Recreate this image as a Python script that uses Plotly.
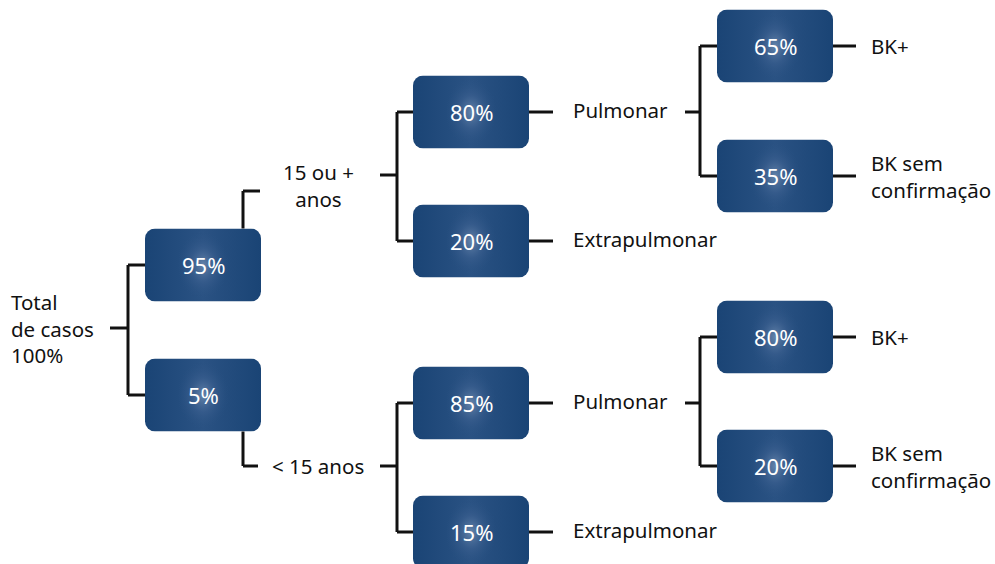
import base64
import plotly.graph_objects as go

# ---------------- data ----------------
root_label = "Total<br>de casos<br>100%"
age_groups = ["15 ou +<br>anos", "< 15 anos"]
age_pct = [95, 5]
form_labels = ["Pulmonar", "Extrapulmonar"]
form_pct = [[80, 20], [85, 15]]
bk_labels = ["BK+", "BK sem<br>confirmação"]
bk_pct = [[65, 35], [80, 20]]

# ---------------- layout (pixel coordinates) ----------------
W, H = 995, 564
BW, BH = 116, 73
col_age, col_form, col_bk = 145, 413, 717
age_cy = [265, 395]
form_cy = [[112, 241], [403, 532]]
bk_cy = [[46, 176], [337, 466]]
LINE = dict(color="#111111", width=3)
FONT = "Noto Sans"
FS = 20.5
FS_BOX = 22

svg = (
    '<svg xmlns="http://www.w3.org/2000/svg" width="116" height="73" viewBox="0 0 116 73">'
    '<defs>'
    '<linearGradient id="h" x1="0" y1="0" x2="1" y2="0">'
    '<stop offset="0" stop-color="#1a4475"/>'
    '<stop offset="0.5" stop-color="#2a5283"/>'
    '<stop offset="1" stop-color="#1a4475"/>'
    '</linearGradient>'
    '<radialGradient id="g" cx="58" cy="36.5" r="34" gradientUnits="userSpaceOnUse" '
    'gradientTransform="translate(58 36.5) scale(0.75 1) translate(-58 -36.5)">'
    '<stop offset="0" stop-color="#6584aa" stop-opacity="1"/>'
    '<stop offset="0.5" stop-color="#3c6090" stop-opacity="0.6"/>'
    '<stop offset="1" stop-color="#2a5283" stop-opacity="0"/>'
    '</radialGradient></defs>'
    '<rect x="0" y="0" width="116" height="73" rx="10" ry="10" fill="url(#h)"/>'
    '<rect x="0" y="0" width="116" height="73" rx="10" ry="10" fill="url(#g)"/></svg>'
)
src = "data:image/svg+xml;base64," + base64.b64encode(svg.encode()).decode()

shapes, images, annotations = [], [], []


def line(x0, y0, x1, y1):
    shapes.append(dict(type="line", xref="x", yref="y", x0=x0, y0=y0, x1=x1, y1=y1, line=LINE))


def box(x, cy, pct):
    images.append(dict(source=src, xref="x", yref="y", x=x, y=cy - BH / 2, sizex=BW, sizey=BH,
                       sizing="stretch", xanchor="left", yanchor="top", layer="above"))
    annotations.append(dict(x=x + BW / 2, y=cy, xref="x", yref="y", text=f"{pct}%", showarrow=False,
                            font=dict(family=FONT, size=FS_BOX, color="white"),
                            xanchor="center", yanchor="middle"))


def label(x, y, text, anchor="left"):
    annotations.append(dict(x=x, y=y, xref="x", yref="y", text=text, showarrow=False, align=anchor,
                            font=dict(family=FONT, size=FS, color="#111111"), xanchor=anchor, yanchor="middle"))


# root
label(9, 328, root_label)
line(110, 328, 128, 328)
line(128, age_cy[0], 128, age_cy[1])
for i in range(2):
    line(128, age_cy[i], col_age, age_cy[i])
    box(col_age, age_cy[i], age_pct[i])

# age group connectors
age_label_y = [185, 466]
line(243, age_cy[0] - BH / 2, 243, 191)
line(243, 191, 260, 191)
line(243, age_cy[1] + BH / 2, 243, 466)
line(243, 466, 258, 466)
for i in range(2):
    label(318, age_label_y[i], age_groups[i], "center")
    yj = 175 if i == 0 else 466
    line(380, yj, 397, yj)
    line(397, form_cy[i][0], 397, form_cy[i][1])
    for j in range(2):
        cy = form_cy[i][j]
        line(397, cy, col_form, cy)
        box(col_form, cy, form_pct[i][j])
        line(col_form + BW, cy, 553, cy)
        label(571, cy - 2, form_labels[j])
    # pulmonar -> bk
    py = form_cy[i][0]
    line(685, py, 700, py)
    line(700, bk_cy[i][0], 700, bk_cy[i][1])
    for k in range(2):
        cy = bk_cy[i][k]
        line(700, cy, col_bk, cy)
        box(col_bk, cy, bk_pct[i][k])
        line(col_bk + BW, cy, 856, cy)
        label(869, cy + (0 if k == 0 else 0), bk_labels[k])

fig = go.Figure()
fig.add_trace(go.Scatter(x=[0, W], y=[0, H], mode="markers", marker=dict(opacity=0), hoverinfo="skip",
                         showlegend=False))
fig.update_layout(
    width=W, height=H, margin=dict(l=0, r=0, t=0, b=0),
    paper_bgcolor="white", plot_bgcolor="white",
    xaxis=dict(range=[0, W], visible=False, fixedrange=True),
    yaxis=dict(range=[H, 0], visible=False, fixedrange=True),
    shapes=shapes, images=images, annotations=annotations, showlegend=False,
)
fig.write_html("out.html", config={"displayModeBar": False},
               post_script="document.body.style.margin='0';document.body.style.overflow='hidden';")
